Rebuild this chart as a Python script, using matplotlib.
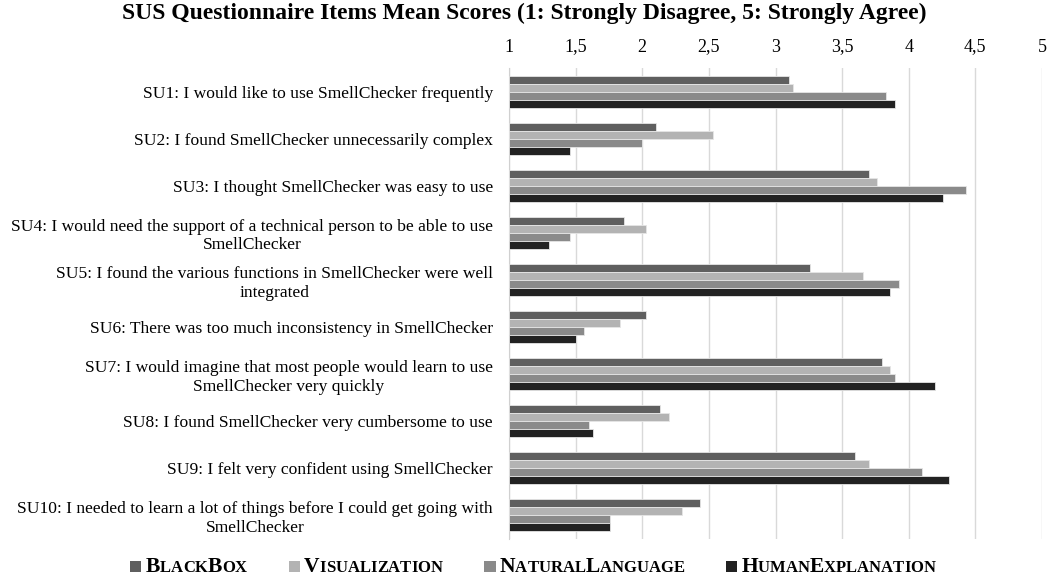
"""Horizontal grouped bars of SUS item means per explanation condition."""

import matplotlib
matplotlib.use("Agg")
import matplotlib.pyplot as plt
import numpy as np
from matplotlib.offsetbox import (AnchoredOffsetbox, DrawingArea, HPacker,
                                  TextArea)
from matplotlib.patches import Rectangle

items = [
    "SU1: I would like to use SmellChecker frequently",
    "SU2: I found SmellChecker unnecessarily complex",
    "SU3: I thought SmellChecker was easy to use",
    "SU4: I would need the support of a technical person to be able to use\nSmellChecker",
    "SU5: I found the various functions in SmellChecker were well\nintegrated",
    "SU6: There was too much inconsistency in SmellChecker",
    "SU7: I would imagine that most people would learn to use\nSmellChecker very quickly",
    "SU8: I found SmellChecker very cumbersome to use",
    "SU9: I felt very confident using SmellChecker",
    "SU10: I needed to learn a lot of things before I could get going with\nSmellChecker",
]

black_box = [3.10, 2.10, 3.70, 1.86, 3.26, 2.03, 3.80, 2.13, 3.60, 2.43]
visualization = [3.13, 2.53, 3.76, 2.03, 3.66, 1.83, 3.86, 2.20, 3.70, 2.30]
natural_language = [3.83, 2.00, 4.43, 1.46, 3.93, 1.56, 3.90, 1.60, 4.10, 1.76]
human_explanation = [3.90, 1.46, 4.26, 1.30, 3.86, 1.50, 4.20, 1.63, 4.30, 1.76]

series_names = ["BlackBox", "Visualization", "NaturalLanguage", "HumanExplanation"]
series_values = [black_box, visualization, natural_language, human_explanation]
colors = ["#5f5f5f", "#b3b3b3", "#8a8a8a", "#222222"]

xticks = [1, 1.5, 2, 2.5, 3, 3.5, 4, 4.5, 5]
xtick_labels = ["1", "1,5", "2", "2,5", "3", "3,5", "4", "4,5", "5"]

SERIF = "Liberation Serif"
plt.rcParams["font.family"] = SERIF

fig = plt.figure(figsize=(10.48, 5.8), dpi=100)
ax = fig.add_axes([509 / 1048, 1 - 539 / 580, (1042 - 509) / 1048, (539 - 68) / 580])

n = len(items)
y = np.arange(n)
bar_h = 0.17
for i, (vals, c) in enumerate(zip(series_values, colors)):
    offs = (i - 1.5) * bar_h
    ax.barh(y + offs, np.array(vals) - 1, left=1, height=bar_h, color=c,
            edgecolor="#e6e6e6", linewidth=0.6, zorder=3)

ax.set_ylim(n - 0.5, -0.5)
ax.set_xlim(1, 5)
ax.set_xticks(xticks)
ax.set_xticklabels(xtick_labels, fontsize=13)
ax.xaxis.tick_top()
ax.tick_params(axis="x", length=0, pad=9)
ax.set_yticks(y)
ax.set_yticklabels(items, fontsize=12.6, ha="right", multialignment="center",
                   linespacing=1.22)
ax.tick_params(axis="y", length=0, pad=11.5)
ax.grid(axis="x", color="#d9d9d9", linewidth=1, zorder=0)
for s in ["top", "right", "bottom"]:
    ax.spines[s].set_visible(False)
ax.spines["left"].set_color("#d0d0d0")

fig.text(0.5, 1 - 13 / 580,
         "SUS Questionnaire Items Mean Scores (1: Strongly Disagree, 5: Strongly Agree)",
         ha="center", va="center", fontsize=17, fontweight="bold")


def small_caps(word, big=15.5, small=12):
    """Pack a word as bold small caps: capitals large, the rest small uppercase."""
    parts = []
    for ch in word:
        size = big if ch.isupper() else small
        parts.append(TextArea(ch.upper(), textprops=dict(
            fontsize=size, fontweight="bold", family=SERIF)))
    return HPacker(children=parts, align="baseline", pad=0, sep=0)


entries = []
for name, c in zip(series_names, colors):
    box = DrawingArea(8, 8, 0, 0)
    box.add_artist(Rectangle((0, 0), 8, 8, facecolor=c, edgecolor="none"))
    entries.append(HPacker(children=[box, small_caps(name)], align="baseline",
                           pad=0, sep=3))
legend = HPacker(children=entries, align="baseline", pad=0, sep=30)
anchored = AnchoredOffsetbox(loc="center", child=legend, frameon=False,
                             bbox_to_anchor=(533 / 1048, 1 - 567 / 580),
                             bbox_transform=fig.transFigure, pad=0, borderpad=0)
fig.add_artist(anchored)

fig.savefig("out.png", dpi=100)
